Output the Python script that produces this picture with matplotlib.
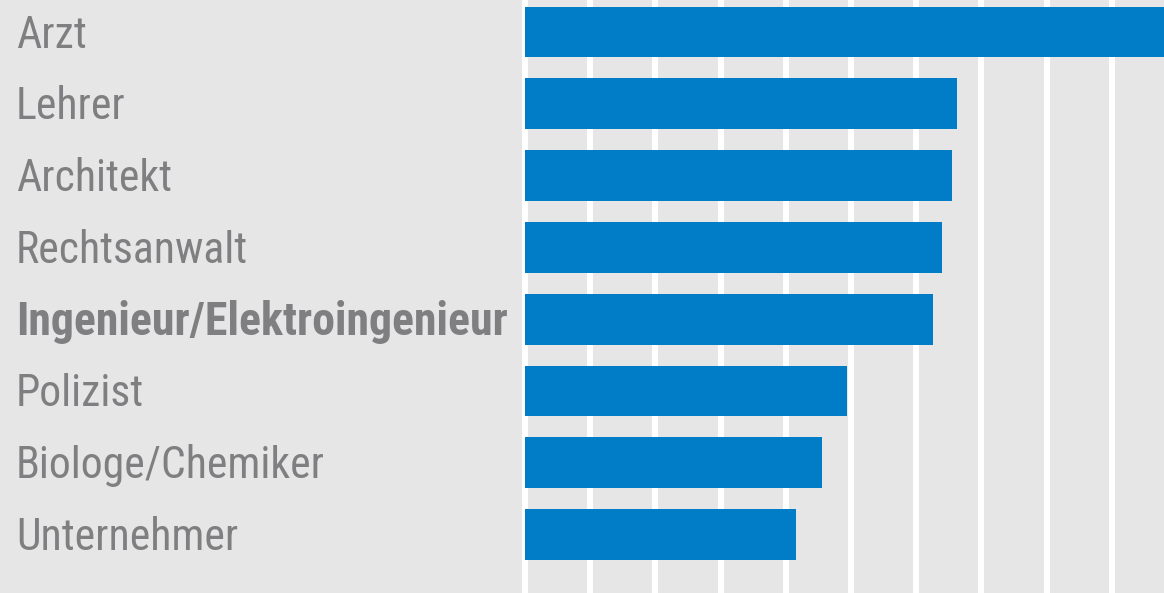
import matplotlib
matplotlib.use("Agg")
import matplotlib.pyplot as plt
import matplotlib.transforms as mtransforms

categories = ["Arzt", "Lehrer", "Architekt", "Rechtsanwalt",
              "Ingenieur/Elektroingenieur", "Polizist", "Biologe/Chemiker", "Unternehmer"]
values = [100.0, 66.3, 65.5, 64.0, 62.6, 49.4, 45.6, 41.6]
highlight = "Ingenieur/Elektroingenieur"
grid_ticks = list(range(0, 100, 10))

FAMILY = ["Roboto Condensed", "DejaVu Sans"]
BG = "#e6e6e6"
BAR = "#017cc7"
TXT = "#7f7f81"

W, H, DPI = 1164, 593, 100
fig = plt.figure(figsize=(W / DPI, H / DPI), dpi=DPI, facecolor=BG)
ax = fig.add_axes([0, 0, 1, 1])
ax.set_facecolor(BG)

px_per_unit = 6.52
zero_px = 525
ax.set_xlim(-zero_px / px_per_unit, (W - zero_px) / px_per_unit)
pitch = 71.8
first_center = 32
ax.set_ylim((H - first_center) / pitch, -first_center / pitch)

ypos = list(range(len(categories)))
ax.barh(ypos, values, height=0.71, color=BAR, zorder=3)

ax.set_xticks(grid_ticks)
ax.set_yticks([])
ax.grid(axis="x", color="white", linewidth=4.3, zorder=1)
ax.tick_params(length=0, labelbottom=False)
for s in ax.spines.values():
    s.set_visible(False)

trans = mtransforms.blended_transform_factory(fig.transFigure, ax.transData)
trans = trans + mtransforms.ScaledTranslation(0, -15.5 / DPI, fig.dpi_scale_trans)
for y, cat in zip(ypos, categories):
    is_hl = cat == highlight
    ax.text(16 / W, y, cat, transform=trans, ha="left", va="baseline",
            fontsize=33 if is_hl else 31.5, color=TXT, family=FAMILY,
            fontweight="bold" if is_hl else "normal")

fig.savefig("out.png", dpi=DPI, facecolor=BG)
